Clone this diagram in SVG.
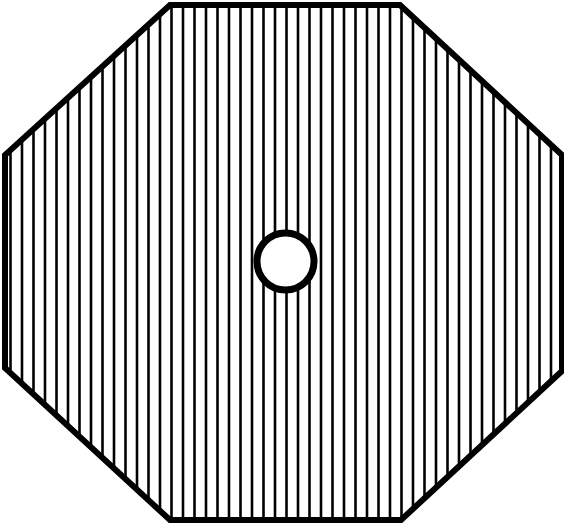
<svg xmlns="http://www.w3.org/2000/svg" width="564" height="526" viewBox="0 0 564 526">
<style>
.hatch line{stroke:#000;stroke-width:2.6}
.edge{fill:none;stroke:#000;stroke-width:6;stroke-linejoin:miter}
.hole{fill:#fff;stroke:#000;stroke-width:7}
</style>
<defs>
<clipPath id="oct"><polygon points="170,5 400,5 562,155 562,371 401,520 170,520 5,368 5,155"/></clipPath>
</defs>
<rect width="564" height="526" fill="#fff"/>
<g id="plate">
<g class="hatch" clip-path="url(#oct)">
<line x1="10.5" y1="0" x2="10.5" y2="526"/>
<line x1="22" y1="0" x2="22" y2="526"/>
<line x1="33.5" y1="0" x2="33.5" y2="526"/>
<line x1="45" y1="0" x2="45" y2="526"/>
<line x1="56.5" y1="0" x2="56.5" y2="526"/>
<line x1="68" y1="0" x2="68" y2="526"/>
<line x1="79.5" y1="0" x2="79.5" y2="526"/>
<line x1="91" y1="0" x2="91" y2="526"/>
<line x1="102.5" y1="0" x2="102.5" y2="526"/>
<line x1="114" y1="0" x2="114" y2="526"/>
<line x1="125.5" y1="0" x2="125.5" y2="526"/>
<line x1="137" y1="0" x2="137" y2="526"/>
<line x1="148.5" y1="0" x2="148.5" y2="526"/>
<line x1="160" y1="0" x2="160" y2="526"/>
<line x1="171.5" y1="0" x2="171.5" y2="526"/>
<line x1="183" y1="0" x2="183" y2="526"/>
<line x1="194.5" y1="0" x2="194.5" y2="526"/>
<line x1="206" y1="0" x2="206" y2="526"/>
<line x1="217.5" y1="0" x2="217.5" y2="526"/>
<line x1="229" y1="0" x2="229" y2="526"/>
<line x1="240.5" y1="0" x2="240.5" y2="526"/>
<line x1="252" y1="0" x2="252" y2="526"/>
<line x1="263.5" y1="0" x2="263.5" y2="526"/>
<line x1="275" y1="0" x2="275" y2="526"/>
<line x1="286.5" y1="0" x2="286.5" y2="526"/>
<line x1="298" y1="0" x2="298" y2="526"/>
<line x1="309.5" y1="0" x2="309.5" y2="526"/>
<line x1="321" y1="0" x2="321" y2="526"/>
<line x1="332.5" y1="0" x2="332.5" y2="526"/>
<line x1="344" y1="0" x2="344" y2="526"/>
<line x1="355.5" y1="0" x2="355.5" y2="526"/>
<line x1="367" y1="0" x2="367" y2="526"/>
<line x1="378.5" y1="0" x2="378.5" y2="526"/>
<line x1="390" y1="0" x2="390" y2="526"/>
<line x1="401.5" y1="0" x2="401.5" y2="526"/>
<line x1="413" y1="0" x2="413" y2="526"/>
<line x1="424.5" y1="0" x2="424.5" y2="526"/>
<line x1="436" y1="0" x2="436" y2="526"/>
<line x1="447.5" y1="0" x2="447.5" y2="526"/>
<line x1="459" y1="0" x2="459" y2="526"/>
<line x1="470.5" y1="0" x2="470.5" y2="526"/>
<line x1="482" y1="0" x2="482" y2="526"/>
<line x1="493.5" y1="0" x2="493.5" y2="526"/>
<line x1="505" y1="0" x2="505" y2="526"/>
<line x1="516.5" y1="0" x2="516.5" y2="526"/>
<line x1="528" y1="0" x2="528" y2="526"/>
<line x1="539.5" y1="0" x2="539.5" y2="526"/>
<line x1="551" y1="0" x2="551" y2="526"/>
</g>
<polygon class="edge" points="170,5 400,5 562,155 562,371 401,520 170,520 5,368 5,155"/>
</g>
<g id="hole">
<circle class="hole" cx="285.5" cy="261.5" r="28.5"/>
</g>
</svg>
